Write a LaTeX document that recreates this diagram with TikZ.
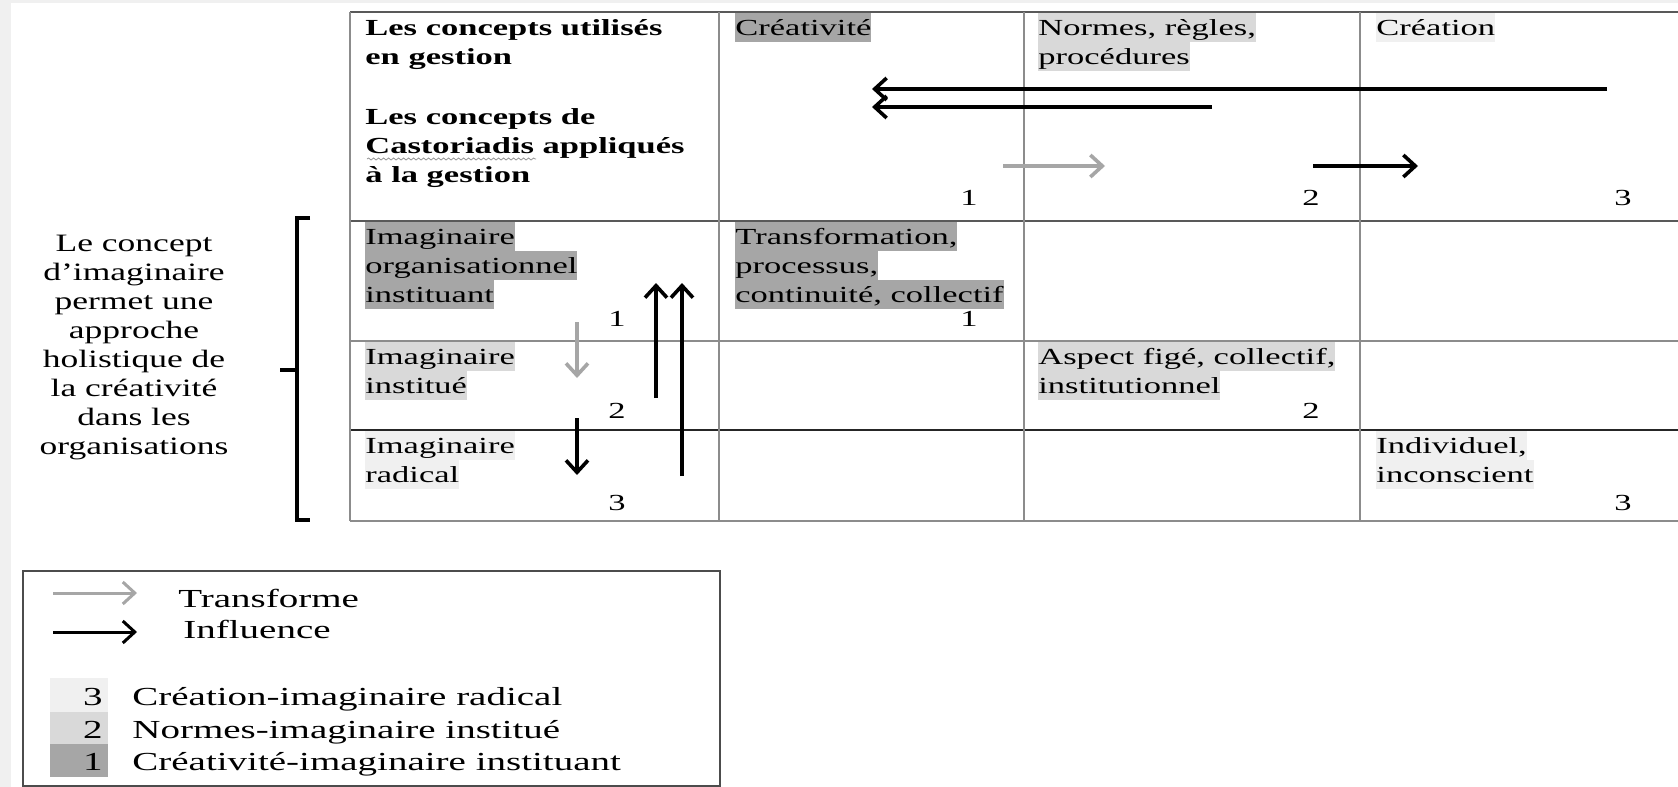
\documentclass[tikz,border=0pt]{standalone}
\usepackage{fontspec}
\setmainfont{Liberation Serif}
\newfontfamily\tabfamily{Liberation Serif}[FakeStretch=1.5]
\newfontfamily\sidefamily{Liberation Serif}[FakeStretch=1.42]
\usetikzlibrary{arrows.meta,decorations.pathmorphing}

\definecolor{pagegray}{gray}{0.94}
\definecolor{hlone}{gray}{0.65}
\definecolor{hltwo}{gray}{0.85}
\definecolor{hlthree}{gray}{0.94}
\setlength{\fboxsep}{0pt}
\newcommand{\hlstrut}{\rule[-3.5pt]{0pt}{14.5pt}}
\newcommand{\hlbox}[2]{\colorbox{#1}{\hlstrut#2}}
\newcommand{\tabsize}{\tabfamily\fontsize{11.5}{14.5}\selectfont}
\newcommand{\legsize}{\tabfamily\fontsize{13}{16.25}\selectfont}

\tikzset{
  gridline/.style={draw=black!45, line width=0.7pt},
  cell/.style={anchor=north west, inner sep=0pt, align=left, font=\tabsize},
  numlabel/.style={anchor=base, inner sep=0pt, font=\tabsize},
  leglabel/.style={anchor=base west, inner sep=0pt, font=\legsize},
  influence/.style={draw=black, line width=1.8pt, -{Straight Barb[length=6pt,width=11pt]}},
  transforme/.style={influence, draw=black!35},
}

\begin{document}
\begin{tikzpicture}[x=0.5pt, y=-0.5pt]
\def\colA{350}
\def\colB{719}
\def\colC{1024}
\def\colD{1360}
\def\colE{1678}
\def\rowA{12}
\def\rowB{221}
\def\rowC{341}
\def\rowD{430}
\def\rowE{521}

\useasboundingbox (0,0) rectangle (1678,787);
\fill[pagegray] (0,0) rectangle (1678,787);
\fill[white] (11,3) rectangle (1678,787);

% grille
\foreach \y in {\rowC,\rowE}
  \draw[gridline] (\colA,\y) -- (\colE,\y);
\foreach \y in {\rowA,\rowB}
  \draw[gridline, draw=black!65] (\colA,\y) -- (\colE,\y);
\draw[gridline, draw=black!85] (\colA,\rowD) -- (\colE,\rowD);
\foreach \x in {\colA,\colB,\colC,\colD}
  \draw[gridline] (\x,\rowA) -- (\x,\rowE);

% en-tete
\node[cell, font=\tabsize\bfseries] (hdr-gestion) at (365,13) {\hlstrut Les concepts utilisés\\\hlstrut en gestion};
\node[cell, font=\tabsize\bfseries] (hdr-casto) at (365,102) {\hlstrut Les concepts de\\\hlstrut Castoriadis appliqués\\\hlstrut à la gestion};
\draw[black!40, line width=0.4pt, decorate, decoration={snake, amplitude=0.5pt, segment length=2.5pt}] (367,159) -- (536,159);

\node[cell] (crea) at (735,13) {\hlbox{hlone}{Créativité}};
\node[cell] (normes) at (1038,13) {\hlbox{hltwo}{Normes, règles,}\\\hlbox{hltwo}{procédures}};
\node[cell] (creation) at (1376,13) {\hlbox{hlthree}{Création}};

% lignes
\node[cell] (imag-instituant) at (365,222) {\hlbox{hlone}{Imaginaire}\\\hlbox{hlone}{organisationnel}\\\hlbox{hlone}{instituant}};
\node[cell] (transfo) at (735,222) {\hlbox{hlone}{Transformation,}\\\hlbox{hlone}{processus,}\\\hlbox{hlone}{continuité, collectif}};
\node[cell] (imag-institue) at (365,342) {\hlbox{hltwo}{Imaginaire}\\\hlbox{hltwo}{institué}};
\node[cell] (aspect) at (1038,342) {\hlbox{hltwo}{Aspect figé, collectif,}\\\hlbox{hltwo}{institutionnel}};
\node[cell] (imag-radical) at (365,431) {\hlbox{hlthree}{Imaginaire}\\\hlbox{hlthree}{radical}};
\node[cell] (individuel) at (1376,431) {\hlbox{hlthree}{Individuel,}\\\hlbox{hlthree}{inconscient}};

% numeros
\foreach \x/\y/\n/\name in {969/205/1/crea, 1311/205/2/normes, 1623/205/3/creation,
    617/326/1/instituant, 617/418/2/institue, 617/510/3/radical,
    969/326/1/transfo, 1311/418/2/aspect, 1623/510/3/individuel}
  \node[numlabel] (num-\name) at (\x,\y) {\n};

% fleches
\coordinate (infl-a-start) at (1607,89);
\coordinate (infl-a-end) at (872,89);
\coordinate (infl-b-start) at (1212,107);
\coordinate (infl-b-end) at (872,107);
\coordinate (tr-a-start) at (1003,166);
\coordinate (tr-a-end) at (1105,166);
\coordinate (infl-c-start) at (1313,166);
\coordinate (infl-c-end) at (1418,166);
\coordinate (tr-b-start) at (577,322);
\coordinate (tr-b-end) at (577,378);
\coordinate (infl-d-start) at (577,418);
\coordinate (infl-d-end) at (577,475);
\coordinate (infl-e-start) at (656,398);
\coordinate (infl-e-end) at (656,283);
\coordinate (infl-f-start) at (682,476);
\coordinate (infl-f-end) at (682,283);

\draw[influence] (infl-a-start) -- (infl-a-end);
\draw[influence] (infl-b-start) -- (infl-b-end);
\draw[transforme] (tr-a-start) -- (tr-a-end);
\draw[influence] (infl-c-start) -- (infl-c-end);
\draw[transforme] (tr-b-start) -- (tr-b-end);
\draw[influence] (infl-d-start) -- (infl-d-end);
\draw[influence] (infl-e-start) -- (infl-e-end);
\draw[influence] (infl-f-start) -- (infl-f-end);

% accolade et texte de gauche
\draw[line width=2.2pt] (310,218) -- (297,218) -- (297,520) -- (310,520);
\draw[line width=2.2pt] (297,370) -- (280,370);
\node[align=center, anchor=north, inner sep=0pt, font=\sidefamily\fontsize{12.5}{14.5}\selectfont] (side) at (134,231)
  {\strut Le concept\\d’imaginaire\\permet une\\approche\\holistique de\\la créativité\\dans les\\organisations};

% legende
\draw[black!70, line width=0.8pt] (23,571) rectangle (720,786);
\coordinate (leg-tr-start) at (53,593);
\coordinate (leg-tr-end) at (137,593);
\coordinate (leg-infl-start) at (53,632);
\coordinate (leg-infl-end) at (137,632);
\draw[transforme, line width=1.5pt] (leg-tr-start) -- (leg-tr-end);
\draw[influence, line width=1.5pt] (leg-infl-start) -- (leg-infl-end);
\node[leglabel] (leg-tr) at (178,607) {Transforme};
\node[leglabel] (leg-infl) at (183,638) {Influence};

\fill[hlthree] (50,678) rectangle (108,712);
\fill[hltwo] (50,712) rectangle (108,744);
\fill[hlone] (50,744) rectangle (108,777);
\foreach \y/\n/\txt in {705/3/Création-imaginaire radical, 738/2/Normes-imaginaire institué, 770/1/Créativité-imaginaire instituant} {
  \node[leglabel, anchor=base east] (leg-num-\n) at (103,\y) {\n};
  \node[leglabel] (leg-txt-\n) at (132,\y) {\txt};
}
\end{tikzpicture}
\end{document}
